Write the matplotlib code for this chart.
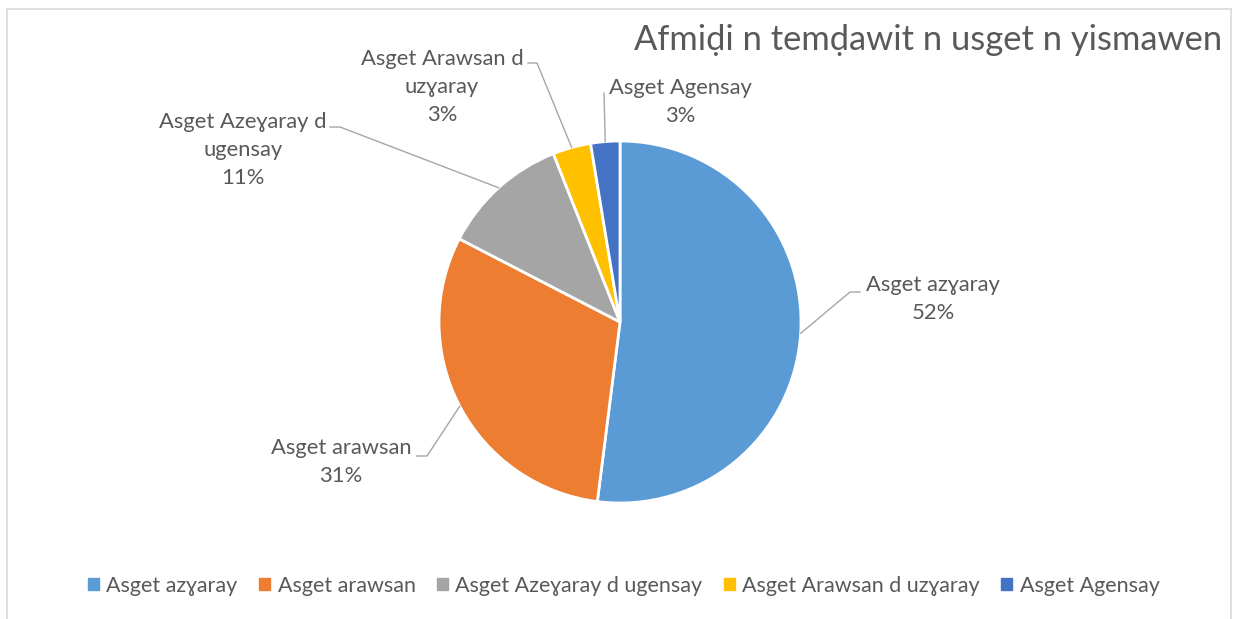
import numpy as np
import matplotlib
matplotlib.use("Agg")
import matplotlib.pyplot as plt
from matplotlib.lines import Line2D

plt.rcParams['font.family'] = ['Lato', 'DejaVu Sans']

# data
categories = ['Asget azɣaray', 'Asget arawsan', 'Asget Azeɣaray d ugensay',
              'Asget Arawsan d uzɣaray', 'Asget Agensay']
label_text = ['Asget azɣaray', 'Asget arawsan', 'Asget Azeɣaray d\nugensay',
              'Asget Arawsan d\nuzɣaray', 'Asget Agensay']
values = [52.0, 30.6, 11.4, 3.4, 2.6]
colors = ['#5B9BD5', '#ED7D31', '#A5A5A5', '#FFC000', '#4472C4']
title = 'Afmiḍi n temḍawit n usget n yismawen'

W, H = 1233, 619
fig = plt.figure(figsize=(W / 100, H / 100), dpi=100)
fig.patch.set_facecolor('white')

# pie geometry in pixels
cx, cy, R = 620, 322, 181
ax = fig.add_axes([0, 0, 1, 1])
ax.axis('off')

def px(x, y):
    # pixel (top-left origin) -> data coords
    return (x - cx) / R, (cy - y) / R

wedges, _ = ax.pie(values, colors=colors, startangle=90, counterclock=False,
                   radius=1, center=(0, 0),
                   wedgeprops=dict(edgecolor='white', linewidth=2))
ax.set_xlim(-cx / R, (W - cx) / R)
ax.set_ylim(-(H - cy) / R, cy / R)
ax.set_aspect('auto')

# label layout (pixels): text centre, leader end, elbow
text_pos = [(933, 299), (341, 462), (243, 150), (442, 87), (680, 102)]
leader_end = [(860, 292), (417, 456), (330, 127), (528, 63), (604, 93)]
leader_elbow = [(850, 292), (427, 456), (340, 127), (537, 63), (604, 93)]

total = sum(values)
txt_color = '#595959'
for w, v, lab, tp, le, lb in zip(wedges, values, label_text, text_pos,
                                 leader_end, leader_elbow):
    mid = np.deg2rad((w.theta1 + w.theta2) / 2)
    ex, ey = np.cos(mid), np.sin(mid)
    p1 = px(*le)
    p2 = px(*lb)
    ax.plot([p1[0], p2[0], ex], [p1[1], p2[1], ey], color='#A6A6A6', lw=1)
    tx, ty = px(*tp)
    ax.text(tx, ty, f'{lab}\n{v / total * 100:.0f}%', ha='center', va='center',
            fontsize=15.8, color=txt_color, linespacing=1.5)

fig.text(1222 / W, 1 - 40 / H, title, ha='right', va='center',
         fontsize=24.8, color=txt_color)

handles = [plt.Rectangle((0, 0), 1, 1, color=c) for c in colors]
leg = fig.legend(handles, categories, loc='center', ncol=5,
                 bbox_to_anchor=(0.506, 1 - 586 / H), frameon=False,
                 fontsize=15.5, handlelength=0.5, handleheight=0.5,
                 handletextpad=0.35, columnspacing=1.0)
for t in leg.get_texts():
    t.set_color(txt_color)

# chart border
bc = '#D9D9D9'
fig.add_artist(Line2D([6.5 / W, 6.5 / W], [0, 1 - 8.5 / H], color=bc, lw=1.2))
fig.add_artist(Line2D([6.5 / W, 1231 / W], [1 - 8.5 / H, 1 - 8.5 / H], color=bc, lw=1.2))
fig.add_artist(Line2D([1231 / W, 1231 / W], [0, 1 - 8.5 / H], color=bc, lw=1.2))

fig.savefig('out.png', dpi=100, facecolor='white')
